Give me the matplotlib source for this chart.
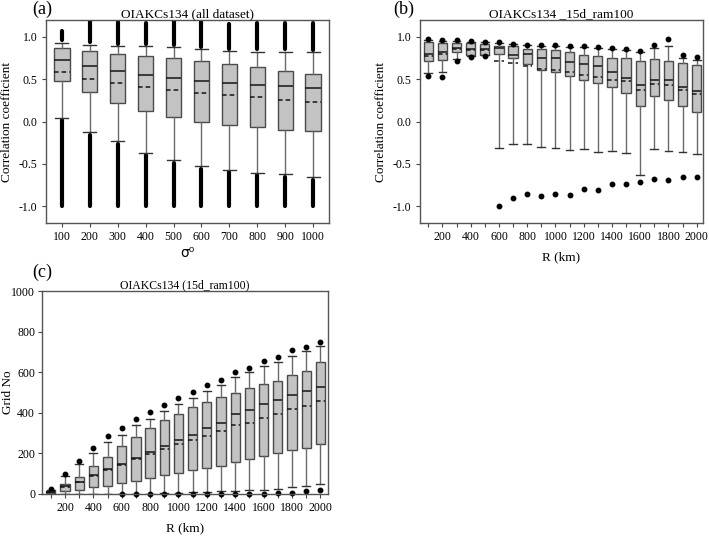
import matplotlib
matplotlib.use('Agg')
import matplotlib.pyplot as plt

plt.rcParams['font.family'] = ['Liberation Serif', 'DejaVu Sans']
plt.rcParams['axes.unicode_minus'] = False

# (a) all dataset, sigma0 = 100..1000
a_labels = ['100', '200', '300', '400', '500', '600', '700', '800', '900', '1000']
a_q1 = [0.48, 0.35, 0.22, 0.12, 0.055, 0.0, -0.04, -0.07, -0.10, -0.115]
a_med = [0.727, 0.656, 0.60, 0.545, 0.515, 0.475, 0.456, 0.436, 0.42, 0.397]
a_q3 = [0.865, 0.833, 0.80, 0.78, 0.75, 0.72, 0.684, 0.64, 0.60, 0.558]
a_mean = [0.585, 0.507, 0.46, 0.41, 0.373, 0.342, 0.31, 0.29, 0.255, 0.236]
a_whislo = [0.045, -0.126, -0.236, -0.37, -0.456, -0.527, -0.57, -0.605, -0.625, -0.66]
a_whishi = [0.93, 0.91, 0.89, 0.89, 0.88, 0.853, 0.83, 0.825, 0.825, 0.817]
a_flier_top = [1.07, 1.19, 1.18, 1.16, 1.19, 1.19, 1.15, 1.16, 1.16, 1.17]
a_flier_bottom = [-1.0, -1.0, -1.0, -1.0, -1.0, -1.0, -1.0, -1.0, -1.0, -1.0]

# (b) and (c) R (km)
R = [100, 200, 300, 400, 500, 600, 700, 800, 900, 1000,
     1100, 1200, 1300, 1400, 1500, 1600, 1700, 1800, 1900, 2000]

b_q1 = [0.72, 0.73, 0.82, 0.79, 0.79, 0.80, 0.75, 0.68, 0.61, 0.58,
        0.54, 0.49, 0.45, 0.41, 0.34, 0.18, 0.30, 0.25, 0.18, 0.11]
b_med = [0.80, 0.82, 0.87, 0.86, 0.86, 0.87, 0.79, 0.80, 0.75, 0.75,
         0.70, 0.68, 0.66, 0.59, 0.51, 0.43, 0.49, 0.49, 0.41, 0.36]
b_q3 = [0.94, 0.93, 0.93, 0.93, 0.92, 0.89, 0.89, 0.86, 0.86, 0.85,
        0.82, 0.79, 0.78, 0.75, 0.745, 0.715, 0.74, 0.715, 0.69, 0.67]
b_mean = [0.77, 0.80, 0.855, 0.85, 0.84, 0.71, 0.69, 0.66, 0.62, 0.61,
          0.58, 0.55, 0.53, 0.49, 0.48, 0.37, 0.44, 0.43, 0.37, 0.33]
b_whislo = [0.57, 0.59, 0.74, 0.77, 0.79, -0.31, -0.27, -0.27, -0.30, -0.31,
            -0.34, -0.33, -0.36, -0.35, -0.37, -0.63, -0.32, -0.35, -0.36, -0.38]
b_whishi = [0.965, 0.955, 0.95, 0.945, 0.935, 0.925, 0.915, 0.905, 0.895, 0.89,
            0.885, 0.88, 0.87, 0.86, 0.845, 0.82, 0.87, 0.89, 0.75, 0.73]
b_dot_hi = [0.975, 0.965, 0.96, 0.955, 0.945, 0.935, 0.92, 0.91, 0.90, 0.90,
            0.89, 0.89, 0.875, 0.865, 0.855, 0.835, 0.91, 0.98, 0.785, 0.76]
b_dot_lo = [0.54, 0.53, 0.71, 0.76, 0.78, -1.0, -0.91, -0.86, -0.88, -0.86,
            -0.87, -0.80, -0.81, -0.74, -0.74, -0.71, -0.68, -0.69, -0.66, -0.66]

c_q1 = [3, 15, 21, 34, 40, 53, 64, 77, 95, 103,
        116, 130, 140, 159, 170, 187, 200, 215, 226, 246]
c_med = [8, 40, 60, 92, 121, 148, 178, 205, 236, 266,
         292, 325, 348, 392, 414, 442, 462, 487, 507, 527]
c_q3 = [16, 50, 84, 138, 180, 236, 282, 324, 364, 395,
        428, 452, 477, 497, 521, 541, 559, 585, 605, 649]
c_mean = [8, 36, 57, 90, 119, 145, 170, 196, 224, 244,
          266, 288, 308, 338, 352, 374, 395, 419, 433, 456]
c_whislo = [0, 0, 0, 0, 0, 0, 1, 2, 4, 6,
            9, 11, 13, 16, 18, 21, 27, 33, 39, 48]
c_whishi = [21, 87, 148, 202, 254, 291, 339, 370, 410, 444,
            475, 506, 536, 576, 599, 633, 652, 682, 702, 729]
c_dot_hi = [25, 97, 164, 226, 288, 323, 371, 402, 440, 471,
            502, 535, 562, 600, 623, 657, 677, 710, 722, 751]
c_dot_lo = [None, None, None, None, None, 0, 0, 0, 0, 0,
            0, 0, 0, 0, 0, 0, 5, 7, 13, 20]

box_face = '#c3c3c3'
edge = '#4a4a4a'


def draw_boxes(ax, pos, q1, med, q3, mean, lo, hi, width):
    stats = []
    for i in range(len(pos)):
        stats.append(dict(med=med[i], q1=q1[i], q3=q3[i], whislo=lo[i],
                          whishi=hi[i], mean=mean[i], fliers=[]))
    ax.bxp(stats, positions=pos, widths=width, capwidths=width * 0.85,
           showmeans=True, meanline=True, showfliers=False, patch_artist=True,
           manage_ticks=False,
           boxprops=dict(facecolor=box_face, edgecolor=edge, linewidth=1),
           medianprops=dict(color='#151515', linewidth=1.1),
           meanprops=dict(color='#151515', linestyle=(0, (3, 2)), linewidth=1.1),
           whiskerprops=dict(color='#6a6a6a', linewidth=1),
           capprops=dict(color='#333333', linewidth=1))


def style_axes(ax):
    for s in ax.spines.values():
        s.set_color('#555555')
        s.set_linewidth(1)
    ax.tick_params(direction='out', length=3, width=0.8, color='#444444',
                   labelsize=8.5, pad=3)


fig = plt.figure(figsize=(7.09, 5.38), dpi=100)

# ---- (a)
ax = fig.add_axes([46 / 709, 1 - 223 / 538, 283 / 709, 203 / 538])
pos_a = list(range(1, len(a_labels) + 1))
ax.vlines(pos_a, a_flier_bottom, [v - 0.03 for v in a_whislo], color='k',
          linewidth=3.0, capstyle='round', zorder=1)
ax.vlines(pos_a, [v + 0.03 for v in a_whishi], a_flier_top, color='k',
          linewidth=3.0, capstyle='round', zorder=1)
draw_boxes(ax, pos_a, a_q1, a_med, a_q3, a_mean, a_whislo, a_whishi, 0.55)
ax.set_xlim(0.43, 10.57)
ax.set_ylim(-1.2, 1.2)
ax.set_xticks(pos_a)
ax.set_xticklabels(a_labels)
ax.set_yticks([-1.0, -0.5, 0.0, 0.5, 1.0])
ax.set_yticklabels(['-1.0', '-0.5', '0.0', '0.5', '1.0'])
ax.set_ylabel('Correlation coefficient', fontsize=9.5, labelpad=4)
ax.set_xlabel('σ⁰', fontsize=10, family='DejaVu Sans', labelpad=2)
ax.set_title('OIAKCs134 (all dataset)', fontsize=9.5, pad=1)
style_axes(ax)

# ---- (b)
ax = fig.add_axes([420 / 709, 1 - 223 / 538, 283 / 709, 203 / 538])
draw_boxes(ax, R, b_q1, b_med, b_q3, b_mean, b_whislo, b_whishi, 65)
ax.plot(R, b_dot_hi, 'o', color='k', markersize=3.2, linestyle='none')
ax.plot(R, b_dot_lo, 'o', color='k', markersize=3.2, linestyle='none')
ax.set_xlim(41, 2045)
ax.set_ylim(-1.2, 1.2)
ax.set_xticks(R)
ax.set_xticklabels([str(r) if r % 200 == 0 else '' for r in R])
ax.set_yticks([-1.0, -0.5, 0.0, 0.5, 1.0])
ax.set_yticklabels(['-1.0', '-0.5', '0.0', '0.5', '1.0'])
ax.set_ylabel('Correlation coefficient', fontsize=9.5, labelpad=4)
ax.set_xlabel('R (km)', fontsize=9.5, labelpad=6)
ax.set_title('OIAKCs134 _15d_ram100', fontsize=9.5, pad=1)
style_axes(ax)

# ---- (c)
ax = fig.add_axes([42 / 709, 1 - 494 / 538, 286 / 709, 203 / 538])
draw_boxes(ax, R, c_q1, c_med, c_q3, c_mean, c_whislo, c_whishi, 65)
ax.plot(R, c_dot_hi, 'o', color='k', markersize=3.2, linestyle='none', clip_on=False)
lo_r = [r for r, v in zip(R, c_dot_lo) if v is not None]
lo_v = [v for v in c_dot_lo if v is not None]
ax.plot(lo_r, lo_v, 'o', color='k', markersize=3.2, linestyle='none', clip_on=False)
ax.set_xlim(38, 2054)
ax.set_ylim(0, 1000)
ax.set_xticks(R)
ax.set_xticklabels([str(r) if r % 200 == 0 else '' for r in R])
ax.set_yticks([0, 200, 400, 600, 800, 1000])
ax.set_ylabel('Grid No', fontsize=9.5)
ax.yaxis.set_label_coords(-0.098, 0.5)
ax.set_xlabel('R (km)', fontsize=9.5, labelpad=6)
ax.set_title('OIAKCs134 (15d_ram100)', fontsize=8.5, pad=1)
style_axes(ax)
ax.tick_params(axis='y', pad=2)

fig.text(42 / 709, 1 - 9 / 538, '(a)', fontsize=13, ha='center', va='center')
fig.text(404 / 709, 1 - 9 / 538, '(b)', fontsize=13, ha='center', va='center')
fig.text(42 / 709, 1 - 272 / 538, '(c)', fontsize=13, ha='center', va='center')

fig.savefig('out.png', dpi=100)
